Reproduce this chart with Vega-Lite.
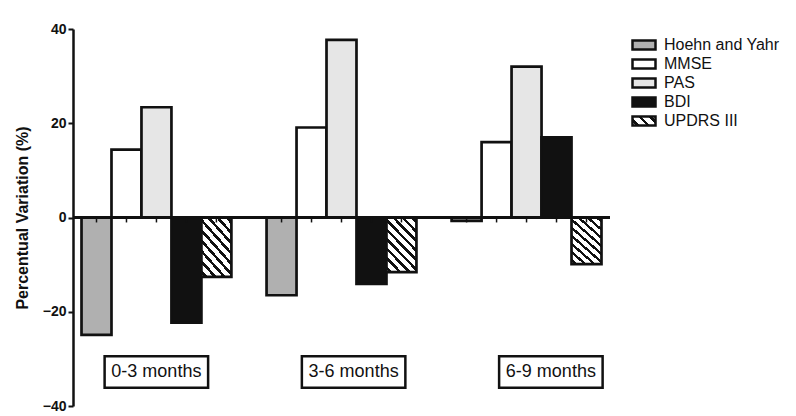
{
  "$schema": "https://vega.github.io/schema/vega-lite/v6.json",
  "width": 537,
  "height": 377,
  "autosize": {"type": "none"},
  "padding": {"left": 73, "top": 29, "right": 186, "bottom": 10},
  "background": "white",
  "config": {"view": {"stroke": null}, "font": "Liberation Sans"},
  "datasets": {
    "bars": [
      {"period": "0-3 months", "measure": "Hoehn and Yahr", "value": -24.9},
      {"period": "0-3 months", "measure": "MMSE", "value": 14.4},
      {"period": "0-3 months", "measure": "PAS", "value": 23.4},
      {"period": "0-3 months", "measure": "BDI", "value": -22.3},
      {"period": "0-3 months", "measure": "UPDRS III", "value": -12.6},
      {"period": "3-6 months", "measure": "Hoehn and Yahr", "value": -16.5},
      {"period": "3-6 months", "measure": "MMSE", "value": 19.1},
      {"period": "3-6 months", "measure": "PAS", "value": 37.7},
      {"period": "3-6 months", "measure": "BDI", "value": -14.1},
      {"period": "3-6 months", "measure": "UPDRS III", "value": -11.6},
      {"period": "6-9 months", "measure": "Hoehn and Yahr", "value": -0.7},
      {"period": "6-9 months", "measure": "MMSE", "value": 16.0},
      {"period": "6-9 months", "measure": "PAS", "value": 32.0},
      {"period": "6-9 months", "measure": "BDI", "value": 17.0},
      {"period": "6-9 months", "measure": "UPDRS III", "value": -9.9}
    ],
    "periods": [
      {"period": "0-3 months"},
      {"period": "3-6 months"},
      {"period": "6-9 months"}
    ]
  },
  "resolve": {"scale": {"x": "independent", "xOffset": "independent"}},
  "layer": [
    {
      "data": {"name": "bars"},
      "layer": [
        {
          "mark": {"type": "bar", "stroke": "#111111", "strokeWidth": 2.7},
          "encoding": {
            "x": {"field": "period", "type": "nominal", "sort": ["0-3 months", "3-6 months", "6-9 months"], "scale": {"paddingInner": 0.19, "paddingOuter": 0.046}, "axis": null},
            "xOffset": {"field": "measure", "type": "nominal", "sort": ["Hoehn and Yahr", "MMSE", "PAS", "BDI", "UPDRS III"], "scale": {"paddingInner": 0, "paddingOuter": 0}},
            "y": {
              "field": "value", "type": "quantitative",
              "scale": {"domain": [-40, 40], "nice": false, "zero": false},
              "axis": {
                "title": "Percentual Variation (%)",
                "values": [-40, -20, 0, 20, 40],
                "grid": false,
                "domainColor": "#111111", "domainWidth": 2.5,
                "tickColor": "#111111", "tickWidth": 2, "tickSize": 5,
                "labelFont": "Liberation Sans", "labelFontSize": 14, "labelFontWeight": "bold", "labelColor": "#111111", "labelPadding": 2, "labelFlush": false,
                "titleFont": "Liberation Sans", "titleFontSize": 16, "titleFontWeight": "bold", "titleColor": "#111111", "titlePadding": 12
              }
            },
            "fill": {
              "field": "measure", "type": "nominal",
              "scale": {
                "domain": ["Hoehn and Yahr", "MMSE", "PAS", "BDI", "UPDRS III"],
                "range": [
                  "#b0b0b0", "#ffffff", "#e6e6e6", "#111111",
                  {"expr": "{gradient: 'linear', x1: 0, y1: 1, x2: 1.207, y2: 0.517, stops: [{offset: 0, color: '#ffffff'}, {offset: 0.112, color: '#ffffff'}, {offset: 0.112, color: '#111111'}, {offset: 0.221, color: '#111111'}, {offset: 0.221, color: '#ffffff'}, {offset: 0.446, color: '#ffffff'}, {offset: 0.446, color: '#111111'}, {offset: 0.554, color: '#111111'}, {offset: 0.554, color: '#ffffff'}, {offset: 0.779, color: '#ffffff'}, {offset: 0.779, color: '#111111'}, {offset: 0.888, color: '#111111'}, {offset: 0.888, color: '#ffffff'}, {offset: 1, color: '#ffffff'}]}"}
                ]
              },
              "condition": {
                "test": "datum.measure === 'UPDRS III'",
                "value": {
                  "gradient": "linear", "x1": 0, "y1": 1, "x2": 0.671, "y2": -0.186,
                  "stops": [
                    {"offset": 0, "color": "#ffffff"},
                    {"offset": 0.0346, "color": "#ffffff"}, {"offset": 0.0346, "color": "#111111"}, {"offset": 0.0766, "color": "#111111"}, {"offset": 0.0766, "color": "#ffffff"},
                    {"offset": 0.1457, "color": "#ffffff"}, {"offset": 0.1457, "color": "#111111"}, {"offset": 0.1877, "color": "#111111"}, {"offset": 0.1877, "color": "#ffffff"},
                    {"offset": 0.2568, "color": "#ffffff"}, {"offset": 0.2568, "color": "#111111"}, {"offset": 0.2988, "color": "#111111"}, {"offset": 0.2988, "color": "#ffffff"},
                    {"offset": 0.3679, "color": "#ffffff"}, {"offset": 0.3679, "color": "#111111"}, {"offset": 0.4099, "color": "#111111"}, {"offset": 0.4099, "color": "#ffffff"},
                    {"offset": 0.479, "color": "#ffffff"}, {"offset": 0.479, "color": "#111111"}, {"offset": 0.521, "color": "#111111"}, {"offset": 0.521, "color": "#ffffff"},
                    {"offset": 0.5901, "color": "#ffffff"}, {"offset": 0.5901, "color": "#111111"}, {"offset": 0.6321, "color": "#111111"}, {"offset": 0.6321, "color": "#ffffff"},
                    {"offset": 0.7012, "color": "#ffffff"}, {"offset": 0.7012, "color": "#111111"}, {"offset": 0.7432, "color": "#111111"}, {"offset": 0.7432, "color": "#ffffff"},
                    {"offset": 0.8123, "color": "#ffffff"}, {"offset": 0.8123, "color": "#111111"}, {"offset": 0.8543, "color": "#111111"}, {"offset": 0.8543, "color": "#ffffff"},
                    {"offset": 0.9234, "color": "#ffffff"}, {"offset": 0.9234, "color": "#111111"}, {"offset": 0.9654, "color": "#111111"}, {"offset": 0.9654, "color": "#ffffff"},
                    {"offset": 1, "color": "#ffffff"}
                  ]
                }
              },
              "legend": {
                "title": null,
                "orient": "none",
                "legendX": 563,
                "legendY": 8,
                "symbolType": "M-2.3,-0.92H2.3V0.92H-2.3Z",
                "symbolSize": 100,
                "symbolStrokeColor": "#111111",
                "symbolStrokeWidth": 2.5,
                "symbolOpacity": 1,
                "labelFont": "Liberation Sans",
                "labelFontSize": 16,
                "labelColor": "#111111",
                "labelOffset": 12,
                "labelLimit": 300,
                "rowPadding": -1,
                "padding": 0,
                "encode": {
                  "symbols": {
                    "update": {
                      "stroke": {"value": "#111111"},
                      "strokeWidth": {"value": 2.5}
                    }
                  }
                }
              }
            }
          }
        },
        {
          "mark": {"type": "rule", "stroke": "#111111", "strokeWidth": 2.5},
          "encoding": {"y": {"datum": 0, "type": "quantitative"}}
        },
        {
          "mark": {"type": "rule", "stroke": "#111111", "strokeWidth": 1.5},
          "encoding": {
            "x": {"field": "period", "type": "nominal", "sort": ["0-3 months", "3-6 months", "6-9 months"], "scale": {"paddingInner": 0.19, "paddingOuter": 0.046}, "axis": null},
            "xOffset": {"field": "measure", "type": "nominal", "sort": ["Hoehn and Yahr", "MMSE", "PAS", "BDI", "UPDRS III"], "scale": {"paddingInner": 0, "paddingOuter": 0}},
            "y": {"datum": 0, "type": "quantitative"},
            "y2": {"datum": -1.05}
          }
        }
      ]
    },
    {
      "data": {"name": "periods"},
      "layer": [
        {
          "mark": {"type": "point", "shape": "M-10.35,-3.15H10.35V3.15H-10.35Z", "size": 100, "filled": true, "fill": "#ffffff", "stroke": "#111111", "strokeWidth": 2.5, "opacity": 1},
          "encoding": {
            "x": {"field": "period", "type": "nominal", "sort": ["0-3 months", "3-6 months", "6-9 months"], "scale": {"type": "point", "padding": 0.3612, "align": 0.585}, "axis": null},
            "y": {"datum": -32.8, "type": "quantitative"}
          }
        },
        {
          "mark": {"type": "text", "font": "Liberation Sans", "fontSize": 18, "color": "#111111", "baseline": "middle", "align": "center"},
          "encoding": {
            "x": {"field": "period", "type": "nominal", "sort": ["0-3 months", "3-6 months", "6-9 months"], "scale": {"type": "point", "padding": 0.3612, "align": 0.585}, "axis": null},
            "y": {"datum": -32.8, "type": "quantitative"},
            "text": {"field": "period"}
          }
        }
      ]
    }
  ]
}
